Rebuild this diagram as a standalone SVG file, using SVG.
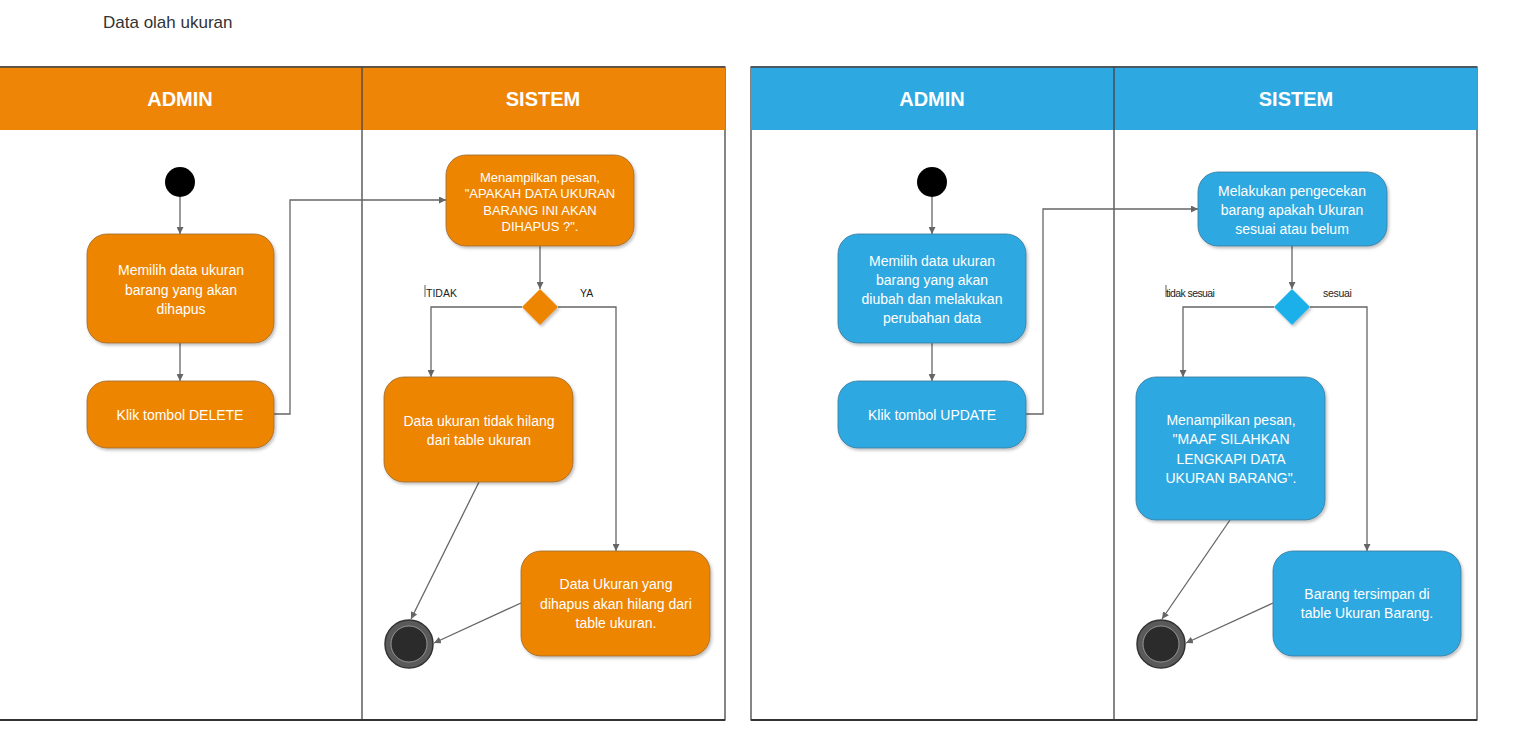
<svg xmlns="http://www.w3.org/2000/svg" width="1515" height="734" viewBox="0 0 1515 734">
<defs>
<marker id="arr" viewBox="0 0 10 10" refX="10" refY="5" markerWidth="7" markerHeight="7" markerUnits="userSpaceOnUse" orient="auto">
<path d="M0,0 L10,5 L0,10 z" fill="#666"/>
</marker>
<filter id="sh" x="-10%" y="-10%" width="130%" height="130%">
<feDropShadow dx="1.5" dy="2" stdDeviation="1.5" flood-color="#000" flood-opacity="0.25"/>
</filter>
</defs>
<style>
.title{font-family:"Liberation Sans",Arial,sans-serif;font-size:17px;fill:#333}
.hdr{font-family:"Liberation Sans",Arial,sans-serif;font-size:20px;font-weight:bold;fill:#fff;text-anchor:middle}
.pool{fill:#fff;stroke:#444;stroke-width:1.3}
.div{stroke:#444;stroke-width:1.3}
.o{fill:#EE8506;stroke:#9a6a30;stroke-width:0.8;filter:url(#sh)}
.b{fill:#2EA8E0;stroke:#3a7a9a;stroke-width:0.8;filter:url(#sh)}
.ho{fill:#EE8506}
.hb{fill:#2EA8E0}
.t{font-family:"Liberation Sans",Arial,sans-serif;font-size:14px;fill:#fff;text-anchor:middle}
.ts{font-family:"Liberation Sans",Arial,sans-serif;font-size:13px;fill:#fff;text-anchor:middle}
.lbl{font-family:"Liberation Sans",Arial,sans-serif;font-size:10.5px;fill:#222}
.c{fill:none;stroke:#666;stroke-width:1.3}
.start{fill:#000}
.endo{fill:#5a5a5a;stroke:#333;stroke-width:1.5}
.endi{fill:#2b2b2b;stroke:#aaa;stroke-width:0.8}
</style>
<rect width="1515" height="734" fill="#fff"/>
<text class="title" x="103" y="28">Data olah ukuran</text>

<g id="pool-left">
<rect class="pool" x="-1" y="67" width="726" height="653"/>
<rect class="ho" x="-1" y="67" width="726" height="63"/>
<line class="div" x1="-1" y1="67" x2="725" y2="67"/>
<line class="div" x1="362" y1="67" x2="362" y2="720"/>
<line x1="-1" y1="720" x2="725" y2="720" stroke="#333" stroke-width="2"/>
<text class="hdr" x="180" y="106">ADMIN</text>
<text class="hdr" x="543" y="106">SISTEM</text>
</g>

<g id="pool-right">
<rect class="pool" x="751" y="67" width="726" height="653"/>
<rect class="hb" x="751" y="67" width="726" height="63"/>
<line class="div" x1="751" y1="67" x2="1477" y2="67"/>
<line class="div" x1="1114" y1="67" x2="1114" y2="720"/>
<line x1="751" y1="720" x2="1477" y2="720" stroke="#333" stroke-width="2"/>
<text class="hdr" x="932" y="106">ADMIN</text>
<text class="hdr" x="1296" y="106">SISTEM</text>
</g>

<g id="connectors">
<line class="c" x1="180" y1="197" x2="180" y2="234" marker-end="url(#arr)"/>
<line class="c" x1="180" y1="343" x2="180" y2="381" marker-end="url(#arr)"/>
<polyline class="c" points="274,414 290,414 290,200 446,200" marker-end="url(#arr)"/>
<line class="c" x1="540" y1="246" x2="540" y2="289" marker-end="url(#arr)"/>
<polyline class="c" points="522,307 431,307 431,377" marker-end="url(#arr)"/>
<polyline class="c" points="558,307 616,307 616,551" marker-end="url(#arr)"/>
<line class="c" x1="479" y1="482" x2="411" y2="619" marker-end="url(#arr)"/>
<line class="c" x1="521" y1="603" x2="434" y2="643" marker-end="url(#arr)"/>

<line class="c" x1="932" y1="197" x2="932" y2="234" marker-end="url(#arr)"/>
<line class="c" x1="932" y1="343" x2="932" y2="381" marker-end="url(#arr)"/>
<polyline class="c" points="1026,414 1043,414 1043,209 1198,209" marker-end="url(#arr)"/>
<line class="c" x1="1292" y1="246" x2="1292" y2="289" marker-end="url(#arr)"/>
<polyline class="c" points="1274,307 1183,307 1183,377" marker-end="url(#arr)"/>
<polyline class="c" points="1310,307 1367,307 1367,551" marker-end="url(#arr)"/>
<line class="c" x1="1230" y1="520" x2="1162" y2="619" marker-end="url(#arr)"/>
<line class="c" x1="1273" y1="603" x2="1186" y2="643" marker-end="url(#arr)"/>

<g id="lbl-tidak"><line x1="425" y1="285" x2="425" y2="297" stroke="#333" stroke-width="0.8"/><text class="lbl" x="426" y="297">TIDAK</text></g>
<text class="lbl" x="580" y="297">YA</text>
<g id="lbl-tidaksesuai"><line x1="1166" y1="285" x2="1166" y2="297" stroke="#333" stroke-width="0.8"/><text class="lbl" x="1166" y="297" letter-spacing="-0.6">tidak sesuai</text></g>
<text class="lbl" x="1323" y="297" letter-spacing="-0.3">sesuai</text>
</g>

<g id="start-l"><circle class="start" cx="180" cy="182" r="15"/></g>
<g id="a1-l"><rect class="o" x="87" y="234" width="187" height="109" rx="20"/>
<text class="t" x="181" y="275">Memilih data ukuran</text><text class="t" x="181" y="295">barang yang akan</text><text class="t" x="181" y="314">dihapus</text></g>
<g id="a2-l"><rect class="o" x="87" y="381" width="187" height="67" rx="20"/>
<text class="t" x="180" y="420">Klik tombol DELETE</text></g>
<g id="a3-l"><rect class="o" x="446" y="155" width="188" height="91" rx="20"/>
<text class="ts" x="540" y="182">Menampilkan pesan,</text><text class="ts" x="540" y="198">"APAKAH DATA UKURAN</text><text class="ts" x="540" y="215">BARANG INI AKAN</text><text class="ts" x="540" y="231">DIHAPUS ?".</text></g>
<g id="d-l"><polygon points="540,289 558,307 540,325 522,307" fill="#EE8506" filter="url(#sh)"/></g>
<g id="a4-l"><rect class="o" x="384" y="377" width="189" height="105" rx="20"/>
<text class="t" x="479" y="426">Data ukuran tidak hilang</text><text class="t" x="479" y="445">dari table ukuran</text></g>
<g id="a5-l"><rect class="o" x="521" y="551" width="189" height="105" rx="20"/>
<text class="t" x="616" y="589">Data Ukuran yang</text><text class="t" x="616" y="609">dihapus akan hilang dari</text><text class="t" x="616" y="628">table ukuran.</text></g>
<g id="end-l"><circle class="endo" cx="409" cy="644" r="24"/><circle class="endi" cx="409" cy="644" r="18"/></g>

<g id="start-r"><circle class="start" cx="932" cy="182" r="15"/></g>
<g id="a1-r"><rect class="b" x="838" y="234" width="188" height="109" rx="20"/>
<text class="t" x="932" y="266">Memilih data ukuran</text><text class="t" x="932" y="285">barang yang akan</text><text class="t" x="932" y="304">diubah dan melakukan</text><text class="t" x="932" y="323">perubahan data</text></g>
<g id="a2-r"><rect class="b" x="838" y="381" width="188" height="67" rx="20"/>
<text class="t" x="932" y="420">Klik tombol UPDATE</text></g>
<g id="a3-r"><rect class="b" x="1198" y="172" width="189" height="74" rx="20"/>
<text class="t" x="1292" y="196">Melakukan pengecekan</text><text class="t" x="1292" y="215">barang apakah Ukuran</text><text class="t" x="1292" y="234">sesuai atau belum</text></g>
<g id="d-r"><polygon points="1292,289 1310,307 1292,325 1274,307" fill="#1BB0EA" filter="url(#sh)"/></g>
<g id="a4-r"><rect class="b" x="1136" y="377" width="189" height="143" rx="20"/>
<text class="t" x="1231" y="425">Menampilkan pesan,</text><text class="t" x="1231" y="444">"MAAF SILAHKAN</text><text class="t" x="1231" y="464">LENGKAPI DATA</text><text class="t" x="1231" y="483">UKURAN BARANG".</text></g>
<g id="a5-r"><rect class="b" x="1273" y="551" width="188" height="105" rx="20"/>
<text class="t" x="1367" y="599">Barang tersimpan di</text><text class="t" x="1367" y="618">table Ukuran Barang.</text></g>
<g id="end-r"><circle class="endo" cx="1161" cy="644" r="24"/><circle class="endi" cx="1161" cy="644" r="18"/></g>
</svg>
